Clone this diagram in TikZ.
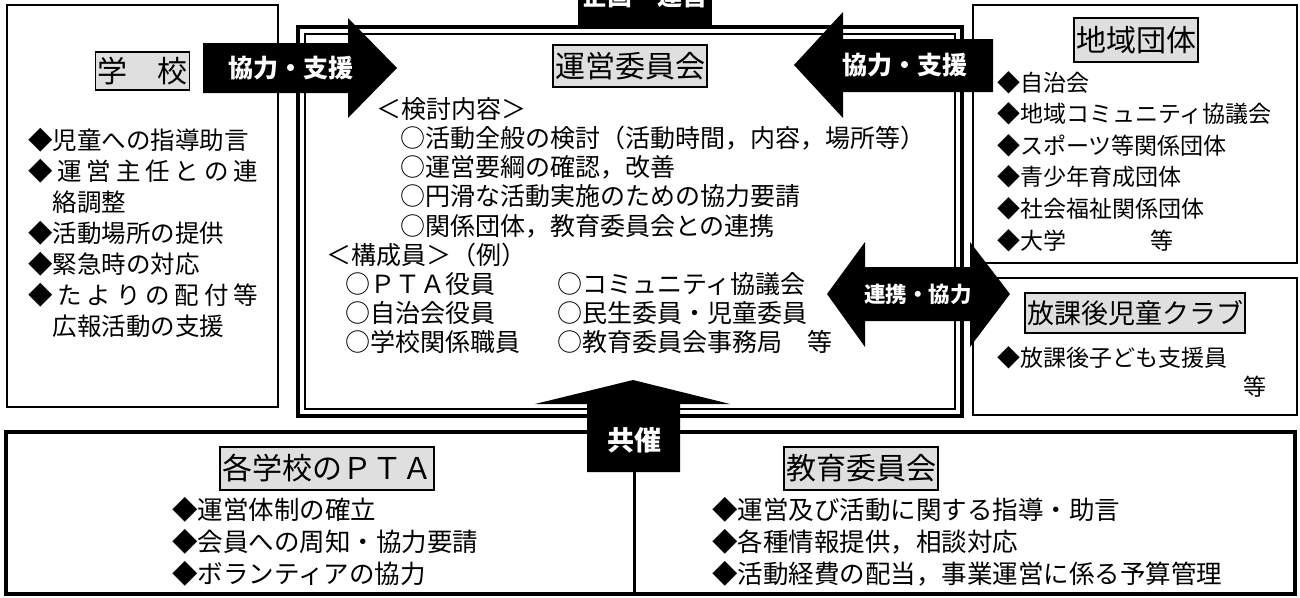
\documentclass[tikz,border=0pt]{standalone}
\usepackage{fontspec}
\setmainfont{Noto Sans CJK JP}
\usepackage{tikz}
\usetikzlibrary{positioning}

\begin{document}
\begin{tikzpicture}[
            x=1pt, y=-1pt,
            thinbox/.style={draw, line width=1.6pt},
            titlebox/.style={draw, fill=gray!25, line width=1.5pt, inner sep=2pt,
                font=\fontsize{30}{36}\selectfont},
            itemtext/.style={anchor=north west, align=left, inner sep=0pt},
            arrowlabel/.style={text=white, inner sep=0pt,
                font=\bfseries\fontsize{25}{30}\selectfont},
            blockarrow/.style={fill=black},
        ]
        \useasboundingbox (0,0) rectangle (1300,597);

        % frames
        \draw[thinbox] (7,5) rectangle (278,407);
        \draw[thinbox] (973,5) rectangle (1297,263);
        \draw[thinbox] (973,278) rectangle (1297,415);
        \draw[line width=4.5pt] (298,27) rectangle (962,416);
        \draw[line width=1.3pt] (305,34) rectangle (955,409);
        \draw[line width=4pt] (6,432) rectangle (1295,594);
        \draw[line width=3pt] (634,472) -- (634,594);

        % block arrows
        \fill[blockarrow] (578,-30) rectangle (712,29);
        \fill[blockarrow] (203,43) -- (348,43) -- (348,18) -- (397,68)
            -- (348,118) -- (348,93) -- (203,93) -- cycle;
        \fill[blockarrow] (993,39) -- (843,39) -- (843,12) -- (794,65)
            -- (843,118) -- (843,92) -- (993,92) -- cycle;
        \fill[blockarrow] (827,294) -- (865,242) -- (865,267) -- (970,267)
            -- (970,242) -- (1010,294) -- (970,347) -- (970,321)
            -- (865,321) -- (865,347) -- cycle;
        \fill[blockarrow] (633,380) -- (730,404) -- (680,404) -- (680,472)
            -- (587,472) -- (587,404) -- (535,404) -- cycle;

        \node (plan) [arrowlabel] at (645,-4) {企画・運営};
        \node (supportL) [arrowlabel] at (291,68) {協力・支援};
        \node (supportR) [arrowlabel] at (905,65) {協力・支援};
        \node (link) [arrowlabel, font=\bfseries\fontsize{21.5}{26}\selectfont] at (918,294) {連携・協力};
        \node (cohost) [arrowlabel, font=\bfseries\fontsize{27}{32}\selectfont] at (634,440) {共催};

        % titles
        \node (school) [titlebox, minimum height=38pt] at (142.5,71) {学　校};
        \node (committee) [titlebox, minimum height=42pt] at (630,66) {運営委員会};
        \node (region) [titlebox, minimum height=44pt] at (1136,40) {地域団体};
        \node (club) [titlebox, minimum height=40pt, font=\fontsize{27}{32}\selectfont] at (1135,313) {放課後児童クラブ};
        \node (pta) [titlebox, minimum height=43pt] at (327,468.5) {各学校のＰＴＡ};
        \node (board) [titlebox, minimum height=43pt] at (861,468.5) {教育委員会};

        % texts
        \node (schoolitems) [itemtext, font=\fontsize{24.5}{31}\selectfont] at (28,128.5) {%
            ◆児童への指導助言\\
            \makebox[230pt][s]{◆ 運 営 主 任 と の 連}\\
            \hspace*{24.5pt}絡調整\\
            ◆活動場所の提供\\
            ◆緊急時の対応\\
            \makebox[230pt][s]{◆ た よ り の 配 付 等}\\
            \hspace*{24.5pt}広報活動の支援};
        \node (agenda) [itemtext, font=\fontsize{25}{29.2}\selectfont] at (326,97) {%
            \hspace*{50pt}＜検討内容＞\\
            \hspace*{74pt}○活動全般の検討（活動時間，内容，場所等）\\
            \hspace*{74pt}○運営要綱の確認，改善\\
            \hspace*{74pt}○円滑な活動実施のための協力要請\\
            \hspace*{74pt}○関係団体，教育委員会との連携\\
            ＜構成員＞（例）\\
            \hspace*{19pt}\makebox[212pt][l]{○ＰＴＡ役員}○コミュニティ協議会\\
            \hspace*{19pt}\makebox[212pt][l]{○自治会役員}○民生委員・児童委員\\
            \hspace*{19pt}\makebox[212pt][l]{○学校関係職員}○教育委員会事務局　等};
        \node (regionitems) [itemtext, font=\fontsize{23}{31.6}\selectfont] at (997,71) {%
            ◆自治会\\
            ◆地域コミュニティ協議会\\
            ◆スポーツ等関係団体\\
            ◆青少年育成団体\\
            ◆社会福祉関係団体\\
            ◆大学\hspace{84pt}等};
        \node (clubitems) [itemtext, font=\fontsize{23}{31.6}\selectfont] at (997,346) {◆放課後子ども支援員};
        \node (clubetc) [anchor=west, inner sep=0pt, font=\fontsize{23}{28}\selectfont] at (1243,387) {等};
        \node (ptaitems) [itemtext, font=\fontsize{25.5}{32}\selectfont] at (172,497) {%
            ◆運営体制の確立\\
            ◆会員への周知・協力要請\\
            ◆ボランティアの協力};
        \node (boarditems) [itemtext, font=\fontsize{25.5}{32}\selectfont] at (712,497) {%
            ◆運営及び活動に関する指導・助言\\
            ◆各種情報提供，相談対応\\
            ◆活動経費の配当，事業運営に係る予算管理};
\end{tikzpicture}
\end{document}
